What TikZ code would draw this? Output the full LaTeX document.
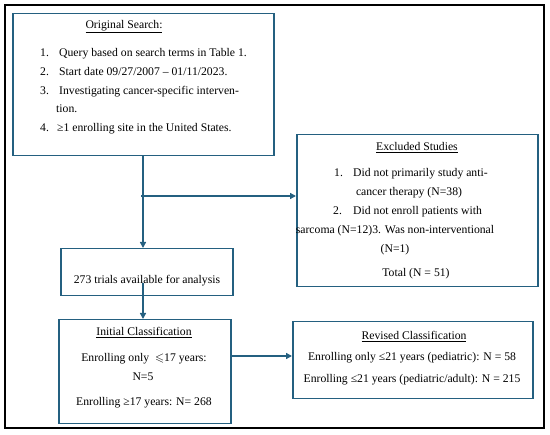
\documentclass[tikz,border=0pt]{standalone}
\usepackage{amssymb}
\usepackage{fontspec}
\setmainfont{Liberation Serif}
\usetikzlibrary{arrows.meta}
\definecolor{boxblue}{RGB}{36,96,128}
\tikzset{
  box/.style={draw=boxblue, line width=1.5pt, inner sep=0pt, anchor=north west},
  txt/.style={inner sep=0pt, font=\fontsize{11.7}{14}\selectfont},
  conn/.style={draw=boxblue, line width=1.4pt, -{Triangle[length=6pt,width=6pt]}},
}
\begin{document}
\begin{tikzpicture}[x=1pt,y=-1pt]
\useasboundingbox (0,0) rectangle (550,435);
\draw[line width=1.6pt] (5,5) rectangle (544,428);

% boxes
\node[box, minimum width=261pt, minimum height=142pt] (orig) at (12,13) {};
\node[box, minimum width=241pt, minimum height=152pt] (excl) at (296,134) {};
\node[box, minimum width=172pt, minimum height=47pt] (avail) at (60,248) {};
\node[box, minimum width=172pt, minimum height=104pt] (init) at (58,319) {};
\node[box, minimum width=240pt, minimum height=77pt] (rev) at (292,321) {};

% original search
\node[txt, anchor=mid] (origt) at (124,26) {\underline{Original Search:}};
\node[txt, anchor=mid west] (on1) at (40,54) {1.};
\node[txt, anchor=mid west] (ot1) at (59,54) {Query based on search terms in Table 1.};
\node[txt, anchor=mid west] (on2) at (40,73) {2.};
\node[txt, anchor=mid west] (ot2) at (59,73) {Start date 09/27/2007 -- 01/11/2023.};
\node[txt, anchor=mid west] (on3) at (40,92) {3.};
\node[txt, anchor=mid west] (ot3) at (59,92) {Investigating cancer-specific interven-};
\node[txt, anchor=mid west] (ot3b) at (56,110) {tion.};
\node[txt, anchor=mid west] (on4) at (40,129) {4.};
\node[txt, anchor=mid west] (ot4) at (57,129) {≥1 enrolling site in the United States.};

% excluded
\node[txt, anchor=mid] (ext) at (417,148) {\underline{Excluded Studies}};
\node[txt, anchor=mid west] (en1) at (334,174) {1.};
\node[txt, anchor=mid west] (et1) at (353,174) {Did not primarily study anti-};
\node[txt, anchor=mid] (et1b) at (409,193) {cancer therapy (N=38)};
\node[txt, anchor=mid west] (en2) at (333,212) {2.};
\node[txt, anchor=mid west] (et2) at (353,212) {Did not enroll patients with};
\node[txt, anchor=mid] (et2b) at (395,231) {sarcoma (N=12)3. Was non-interventional};
\node[txt, anchor=mid] (et3) at (395,250) {(N=1)};
\node[txt, anchor=mid] (etot) at (416,274) {Total (N = 51)};

% available
\node[txt, anchor=mid] (availt) at (147,281) {273 trials available for analysis};

% initial
\node[txt, anchor=mid] (initt) at (144,333) {\underline{Initial Classification}};
\node[txt, anchor=mid] (init1) at (144,359) {Enrolling only \ $\leqslant$17 years:};
\node[txt, anchor=mid] (init1b) at (143,378) {N=5};
\node[txt, anchor=mid] (init2) at (144,403) {Enrolling ≥17 years: N= 268};

% revised
\node[txt, anchor=mid] (revt) at (414,337) {\underline{Revised Classification}};
\node[txt, anchor=mid] (rev1) at (412,358) {Enrolling only ≤21 years (pediatric): N = 58};
\node[txt, anchor=mid] (rev2) at (412,380) {Enrolling ≤21 years (pediatric/adult): N = 215};

% connectors
\coordinate (branch) at (141,196);
\coordinate (vx) at (143,196);
\draw[conn] (orig.south -| vx) -- (vx |- avail.north);
\draw[conn] (branch) -- (branch -| excl.west);
\coordinate (astart) at (143,283);
\draw[conn] (astart) -- (astart |- init.north);
\coordinate (hy) at (230,356);
\draw[conn] (init.east |- hy) -- (hy -| rev.west);
\end{tikzpicture}
\end{document}
